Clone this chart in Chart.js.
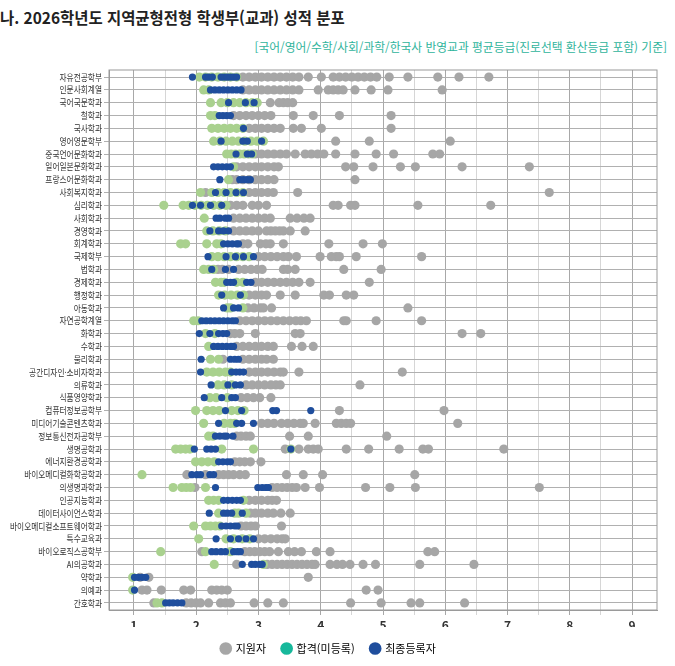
<!DOCTYPE html>
<html lang="ko">
<head>
<meta charset="utf-8">
<title>2026학년도 지역균형전형 학생부(교과) 성적 분포</title>
<script src="https://cdn.jsdelivr.net/npm/chart.js"></script>
<style>
  html, body { margin: 0; padding: 0; background: #fff; }
  body { width: 675px; height: 666px; position: relative; overflow: hidden;
         font-family: "Noto Sans CJK KR", "Noto Sans", sans-serif; }
  #title { position: absolute; left: 0; top: 5px; font-size: 16px; font-weight: bold; color: #222;
           white-space: nowrap; transform: scaleX(0.965); transform-origin: left top; }
  #subtitle { position: absolute; right: 8px; top: 38px; font-size: 12px; color: #2fb49c;
              white-space: nowrap; transform: scaleX(0.98); transform-origin: right top; }
  #chart { position: absolute; left: 0; top: 0; }
</style>
</head>
<body>
<div id="title">나. 2026학년도 지역균형전형 학생부(교과) 성적 분포</div>
<div id="subtitle">[국어/영어/수학/사회/과학/한국사 반영교과 평균등급(진로선택 환산등급 포함) 기준]</div>
<canvas id="chart" width="675" height="666"></canvas>
<script>
// departments, top to bottom
const categories = [
  '자유전공학부', '인문사회계열', '국어국문학과', '철학과', '국사학과', '영어영문학부',
  '중국언어문화학과', '일어일본문화학과', '프랑스어문화학과', '사회복지학과', '심리학과',
  '사회학과', '경영학과', '회계학과', '국제학부', '법학과', '경제학과', '행정학과', '아동학과',
  '자연공학계열', '화학과', '수학과', '물리학과', '공간디자인·소비자학과', '의류학과',
  '식품영양학과', '컴퓨터정보공학부', '미디어기술콘텐츠학과', '정보통신전자공학부', '생명공학과',
  '에너지환경공학과', '바이오메디컬화학공학과', '의생명과학과', '인공지능학과', '데이터사이언스학과',
  '바이오메디컬소프트웨어학과', '특수교육과', '바이오로직스공학부', 'AI의공학과', '약학과',
  '의예과', '간호학과'
];

// grade ticks (labels only on whole grades)
const xTicks = [1, 1.5, 2, 2.5, 3, 3.5, 4, 4.5, 5, 5.5, 6, 6.5, 7, 7.5, 8, 8.5, 9];

// 지원자 (grey)
const applicants = [
  [2.75,2.85,2.95,3.05,3.15,3.25,3.35,3.45,3.55,3.65,3.8,4.01,4.2,4.3,4.4,4.5,4.6,4.7,4.8,4.9,5.1,5.4,5.88,6.22,6.7],
  [2.75,2.85,2.95,3.05,3.15,3.25,3.35,3.45,3.55,3.65,3.96,4.12,4.2,4.28,4.36,4.55,4.81,5.08,5.95],
  [3.19,3.33,3.4,3.47,3.55],
  [2.6,2.7,2.8,2.9,3.0,3.1,3.2,3.56,3.88,4.3,5.13],
  [2.85,2.95,3.05,3.15,3.25,3.35,3.56,3.69,4.01,5.13],
  [4.24,4.78,6.08],
  [2.95,3.05,3.15,3.25,3.35,3.45,3.59,3.75,3.85,3.95,4.05,4.24,4.55,4.89,5.17,5.8,5.91],
  [2.65,2.75,2.85,2.95,3.05,3.15,3.25,3.32,4.4,4.53,4.84,5.28,5.52,6.27,7.35],
  [2.58,2.65,2.75,2.85,2.95,3.05,3.15,3.25,4.55],
  [2.15,2.85,2.95,3.05,3.15,3.24,3.63,7.67],
  [2.55,2.65,2.75,2.9,3.0,3.13,4.2,4.28,4.48,4.55,5.56,6.73],
  [2.6,2.7,2.8,2.9,3.0,3.1,3.19,3.51,3.62,3.73,3.83],
  [2.6,2.7,2.8,2.9,3.0,3.13,3.2,3.27,3.34,3.4,3.51,3.75],
  [2.75,2.83,3.03,3.12,3.19,3.4,4.13,4.68,4.99],
  [3.0,3.1,3.2,3.3,3.4,3.48,3.61,3.99,4.17,4.25,4.3,4.57,5.62],
  [2.35,2.42,2.52,2.68,2.78,2.88,2.98,3.06,3.4,3.47,3.59,4.37,4.97],
  [2.95,3.05,3.15,3.25,3.35,3.45,3.55,3.65,3.83,4.78],
  [2.85,2.95,3.05,3.13,3.35,3.59,4.05,4.14,4.41,4.53],
  [2.83,2.93,3.03,3.08,3.21,5.4],
  [2.7,2.8,2.9,3.0,3.1,3.2,3.3,3.4,3.5,3.6,3.68,3.77,4.37,4.41,4.89,5.62],
  [2.55,2.62,2.7,2.95,3.59,3.67,6.27,6.57],
  [2.65,2.75,2.85,2.95,3.05,3.15,3.24,3.53,3.7,3.88],
  [2.43,2.75,2.85,2.95,3.05,3.13,3.24],
  [2.85,2.95,3.05,3.15,3.25,3.35,3.4,3.65,5.31],
  [2.8,2.9,3.0,3.1,3.2,3.28,3.35,4.63],
  [2.72,2.82,2.92,3.02,3.2],
  [4.3,5.98],
  [3.05,3.15,3.25,3.37,3.47,3.57,3.67,3.72,3.91,4.25,4.33,4.41,4.48,6.2],
  [2.65,2.72,2.8,2.87,3.5,3.8,5.06],
  [3.43,3.65,3.8,3.88,3.96,4.41,4.77,5.26,5.64,5.73,6.94],
  [2.62,2.7,2.78,2.87,3.04],
  [1.85,2.15,2.36,2.44,2.52,2.6,2.7,2.79,3.45,3.72,4.03,5.51],
  [1.98,3.22,3.3,3.38,3.46,3.54,3.61,3.75,3.98,4.72,5.11,5.52,7.51],
  [2.85,2.95,3.05,3.15,3.22,3.29],
  [2.87,2.95,3.05,3.15,3.24,3.36,3.51],
  [2.72,2.8,2.88,2.95,3.37],
  [3.0,3.1,3.2,3.3,3.38,3.43],
  [2.09,2.78,2.86,2.94,3.02,3.1,3.18,3.32,3.48,3.58,3.69,3.93,4.15,5.72,5.83],
  [2.65,3.14,3.22,3.3,3.38,3.46,3.54,3.62,3.7,3.78,3.86,3.91,4.15,4.26,4.35,4.47,4.68,4.88,5.59,6.46],
  [1.1,1.24,3.8],
  [1.13,1.21,1.44,1.8,1.91,2.25,2.33,2.41,2.5,4.73,4.92],
  [1.32,1.84,1.92,2.0,2.07,2.2,2.39,2.47,2.55,2.93,3.15,3.4,4.48,4.97,5.45,5.59,6.31]
];

// 합격(미등록) (light green)
const admitted = [
  [2.05,2.15,2.25,2.35,2.45,2.55,2.65],
  [2.12,2.2],
  [2.23,2.4,2.5,2.6,2.7,2.8,2.9,2.98],
  [2.23,2.3],
  [2.25,2.35,2.45,2.55,2.65,2.75],
  [2.28,2.38,2.48,2.58,2.68,2.78,2.88,2.98,3.08],
  [2.49,2.56,2.63,2.7,2.77,2.84,2.9],
  [2.6],
  [2.52],
  [2.07,2.25,2.35,2.45,2.55,2.65,2.75],
  [1.48,1.79,1.88,1.98,2.08,2.18,2.28,2.38,2.48],
  [2.13],
  [2.17,2.27,2.37,2.47],
  [1.75,1.83,2.17,2.33,2.4],
  [2.25,2.35,2.45,2.55,2.65,2.75,2.85],
  [2.12,2.2,2.28],
  [2.31,2.4,2.45,2.65,2.75],
  [2.36,2.46,2.56,2.66,2.76],
  [2.5,2.55,2.75],
  [1.96,2.03],
  [2.15,2.3],
  [2.2],
  [2.23,2.36],
  [2.17,2.27,2.37,2.47,2.55],
  [2.35,2.45,2.57],
  [2.22,2.32,2.5],
  [1.99,2.17,2.27,2.37,2.57,2.67,2.77],
  [2.12,2.45,2.55,2.62],
  [2.2,2.27],
  [1.67,1.75,1.83,1.9,2.41,2.92,3.52],
  [1.99,2.09,2.19,2.29],
  [1.13],
  [1.63,1.77,1.84,1.91,2.15],
  [2.2,2.28,2.36,2.76],
  [2.36,2.62,2.68,2.8],
  [1.96,2.15,2.23,2.31,2.38],
  [2.04,2.48,2.6,2.74,2.86],
  [1.43,2.15,2.55],
  [2.29,3.08],
  [0.98],
  [0.98],
  [1.37,1.45]
];

// 최종등록자 (navy)
const registered = [
  [1.94,2.15,2.2,2.26,2.4,2.45,2.5,2.55,2.6,2.65],
  [2.23,2.3,2.37,2.44,2.51,2.58,2.65,2.72],
  [2.52,2.79,2.93],
  [2.37,2.43,2.49,2.55],
  [2.76],
  [2.4,2.75,2.82,3.05],
  [2.64,2.82,2.89],
  [2.28,2.35,2.42,2.49,2.55],
  [2.38,2.7,2.76,2.82,2.87],
  [2.31,2.48,2.64,2.76],
  [1.94,2.07,2.23,2.41],
  [2.32,2.38,2.47,2.52],
  [2.22,2.36,2.44,2.52],
  [2.44,2.51,2.58,2.65,2.68],
  [2.19,2.48,2.63,2.76,2.92],
  [2.25,2.47,2.6],
  [2.49,2.55,2.6,2.81,2.88],
  [2.41,2.71],
  [2.44,2.6,2.68],
  [2.09,2.16,2.23,2.3,2.37,2.44,2.51,2.58,2.63],
  [2.05,2.22,2.36,2.43,2.49],
  [2.28,2.35,2.42,2.49,2.56,2.6],
  [2.08,2.55,2.62,2.68],
  [2.07,2.57,2.64,2.7,2.76],
  [2.24,2.51,2.63,2.71],
  [2.13,2.41,2.57,2.63],
  [2.47,2.73,3.23,3.29,3.84],
  [2.36,2.65,2.73,2.92],
  [2.31,2.38,2.45,2.49,2.59],
  [1.97,2.17,2.24,2.31,3.52],
  [2.36,2.43,2.5,2.55],
  [1.93,2.01,2.07,2.22,2.28],
  [2.31,2.99,3.06,3.12,3.16],
  [2.44,2.51,2.58,2.65,2.71],
  [2.21,2.44,2.5,2.57,2.74],
  [2.41,2.48,2.55,2.62,2.66],
  [2.32,2.55,2.68,2.8,2.92],
  [2.25,2.32,2.4,2.47,2.6,2.66,2.71],
  [2.74,2.89,2.95,3.02,3.06],
  [1.01,1.07,1.13,1.19],
  [1.01],
  [1.51,1.57,1.63,1.7,1.77]
];

function toPoints(rows) {
  const pts = [];
  rows.forEach((vals, i) => vals.forEach(v => pts.push({ x: v, y: i })));
  return pts;
}

Chart.defaults.font.family = '"Noto Sans CJK KR", "Noto Sans", sans-serif';

// category names drawn a bit condensed, like the original
const yLabels = {
  id: 'yLabels',
  afterDraw(chart) {
    const { ctx, chartArea, scales } = chart;
    ctx.save();
    ctx.font = '9.5px "Noto Sans CJK KR"';
    ctx.fillStyle = '#333';
    ctx.textAlign = 'right';
    ctx.textBaseline = 'middle';
    categories.forEach((c, i) => {
      ctx.save();
      ctx.translate(chartArea.left - 7, scales.y.getPixelForValue(i));
      ctx.scale(0.81, 1);
      ctx.fillText(c, 0, 0);
      ctx.restore();
    });
    ctx.restore();
  }
};

// frame round the plot
const frame = {
  id: 'frame',
  afterDatasetsDraw(chart) {
    const { ctx, chartArea: a } = chart;
    ctx.save();
    ctx.strokeStyle = '#9a9a9a';
    ctx.lineWidth = 1;
    ctx.strokeRect(a.left, a.top, a.right - a.left, a.bottom - a.top);
    ctx.restore();
  }
};

new Chart('chart', {
  type: 'scatter',
  data: {
    datasets: [{
      label: '지원자',
      data: toPoints(applicants),
      backgroundColor: '#a6a6a6',
      legendColor: '#a6a6a6',
      pointRadius: 4.6,
      borderWidth: 0,
      order: 3
    }, {
      label: '합격(미등록)',
      data: toPoints(admitted),
      backgroundColor: '#a9d18e',
      legendColor: '#17b89b',
      pointRadius: 4.6,
      borderWidth: 0,
      order: 2
    }, {
      label: '최종등록자',
      data: toPoints(registered),
      backgroundColor: '#1f4e9d',
      legendColor: '#1f4e9d',
      pointRadius: 3.6,
      borderWidth: 0,
      order: 1
    }]
  },
  options: {
    responsive: false,
    animation: false,
    layout: { padding: { top: 70, right: 18, bottom: 2, left: 0 } },
    scales: {
      x: {
        type: 'linear',
        min: 0.6,
        max: 9.4,
        afterBuildTicks: scale => { scale.ticks = xTicks.map(v => ({ value: v })); },
        afterFit: scale => { scale.height = 17; },
        ticks: {
          autoSkip: false,
          maxRotation: 0,
          padding: 3,
          color: '#333',
          font: { size: 12, weight: 'bold' },
          callback: v => Number.isInteger(v) ? v : ''
        },
        grid: {
          color: ctx => ctx.tick && Number.isInteger(ctx.tick.value) ? '#a8a8a8' : '#d6d6d6',
          tickLength: 5
        },
        border: { color: '#9a9a9a' }
      },
      y: {
        type: 'linear',
        reverse: true,
        min: -0.55,
        max: 41.55,
        afterBuildTicks: scale => { scale.ticks = categories.map((c, i) => ({ value: i })); },
        afterFit: scale => { scale.width = 109; },
        ticks: { display: false },
        grid: { color: '#b0b0b0', tickLength: 5 },
        border: { color: '#9a9a9a' }
      }
    },
    plugins: {
      tooltip: { enabled: false },
      legend: {
        position: 'bottom',
        labels: {
          usePointStyle: true,
          boxWidth: 9,
          boxHeight: 9,
          padding: 16,
          color: '#333',
          font: { size: 11 },
          generateLabels: chart => chart.data.datasets.map((ds, i) => ({
            text: ds.label,
            fillStyle: ds.legendColor,
            strokeStyle: ds.legendColor,
            lineWidth: 0,
            pointStyle: 'circle',
            hidden: false,
            datasetIndex: i
          }))
        }
      }
    }
  },
  plugins: [yLabels, frame]
});
</script>
</body>
</html>
